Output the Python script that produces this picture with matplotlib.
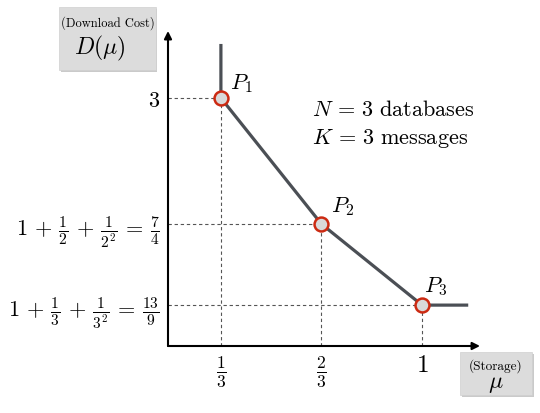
import numpy as np
import matplotlib as mpl
mpl.use("agg")
import matplotlib.pyplot as plt
from matplotlib.patches import Rectangle

plt.rcParams["mathtext.fontset"] = "cm"
plt.rcParams["font.family"] = "serif"
plt.rcParams["font.serif"] = ["cmr10", "DejaVu Serif"]
plt.rcParams["axes.formatter.use_mathtext"] = True

# corner points of the storage / download cost tradeoff
mu = [1/3, 2/3, 1]
D = [3, 7/4, 13/9]
point_names = [r"$P_1$", r"$P_2$", r"$P_3$"]
xtick_labels = [r"$\frac{1}{3}$", r"$\frac{2}{3}$", r"$1$"]
ytick_labels = [r"$3$",
                r"$1\,+\,\frac{1}{2}\,+\,\frac{1}{2^2}\,=\,\frac{7}{4}$",
                r"$1\,+\,\frac{1}{3}\,+\,\frac{1}{3^2}\,=\,\frac{13}{9}$"]
D_top = 5.5      # vertical branch above P1 (goes to infinity)
mu_tail = 1.153  # flat branch after P3

W, H = 540, 414
def fx(px): return px/W
def fy(py): return 1-py/H

fig = plt.figure(figsize=(5.4, 4.14), dpi=100)
ax = fig.add_axes([fx(168), fy(347), fx(480)-fx(168), fy(32)-fy(347)])

p = 1.7
ax.set_yscale("function", functions=(lambda y: -np.power(np.abs(y), -p),
                                     lambda v: np.power(np.abs(v), -1/p)))
ax.set_xlim(0.158, 1.192)
ax.set_ylim(1.337, 7.67)
for s in ax.spines.values(): s.set_visible(False)

x0 = ax.get_xlim()[0]
y0 = ax.get_ylim()[0]
for m, d in zip(mu, D):
    ax.plot([x0, m], [d, d], ls=(0, (3, 2.5)), color="#555555", lw=0.8, clip_on=False)
    ax.plot([m, m], [y0, d], ls=(0, (3, 2.5)), color="#555555", lw=0.8, clip_on=False)

cx = [mu[0]] + mu + [mu_tail]
cy = [D_top] + D + [D[-1]]
ax.plot(cx, cy, color="#4b4f55", lw=2.3, solid_capstyle="butt", zorder=3)
ax.plot(mu, D, "o", ms=10, mfc="#d9d9d9", mec="#cc2a12", mew=1.8, zorder=4)

offs = [(9, 15), (10, 18), (2, 20)]
for m, d, n, o in zip(mu, D, point_names, offs):
    ax.annotate(n, (m, d), xytext=o, textcoords="offset pixels",
                fontsize=16, ha="left", va="center")

ax.text(0.46, 0.752, r"$N\,=\,3\ \mathrm{databases}$", transform=ax.transAxes,
        fontsize=16, ha="left", va="center")
ax.text(0.46, 0.663, r"$K\,=\,3\ \mathrm{messages}$", transform=ax.transAxes,
        fontsize=16, ha="left", va="center")

ax.set_xticks(mu, xtick_labels, fontsize=18)
ax.set_yticks(D, ytick_labels, fontsize=16)
ax.tick_params(length=0)
ax.tick_params(axis="x", pad=6)
ax.tick_params(axis="y", pad=6)
ax.minorticks_off()

arrow = dict(arrowstyle="-|>", lw=1.5, color="black", mutation_scale=11, shrinkA=0, shrinkB=0)
ax.annotate("", xy=(1, 0), xytext=(0, 0), xycoords="axes fraction", arrowprops=arrow)
ax.annotate("", xy=(0, 1), xytext=(0, 0), xycoords="axes fraction", arrowprops=arrow)

def box(x1, y1, x2, y2):
    fig.add_artist(Rectangle((fx(x1)+1.5/W, fy(y2)-1.5/H), fx(x2)-fx(x1), fy(y1)-fy(y2),
                             transform=fig.transFigure, fc="#a8a8a8", ec="none", alpha=0.6))
    fig.add_artist(Rectangle((fx(x1), fy(y2)), fx(x2)-fx(x1), fy(y1)-fy(y2),
                             transform=fig.transFigure, fc="#dcdcdc", ec="#cfcfcf", lw=0.5))

box(59, 8, 156, 71)
fig.text(fx(108), fy(23), "(Download Cost)", fontsize=9, ha="center", va="center")
fig.text(fx(100), fy(48), r"$D(\mu)$", fontsize=17, ha="center", va="center")

box(460, 353, 532, 396)
fig.text(fx(496), fy(366), "(Storage)", fontsize=9.5, ha="center", va="center")
fig.text(fx(496), fy(384), r"$\mu$", fontsize=17, ha="center", va="center")

fig.savefig("out.png", dpi=100)
